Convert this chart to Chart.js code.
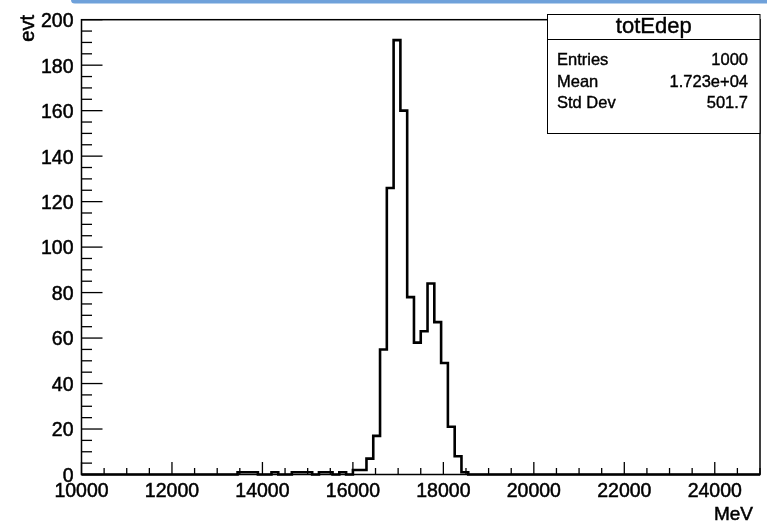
<!DOCTYPE html>
<html>
<head>
<meta charset="utf-8">
<script src="https://cdn.jsdelivr.net/npm/chart.js@4"></script>
<style>
  body { margin: 0; background: #fff; }
  canvas { display: block; }
</style>
</head>
<body>
<canvas id="histChart" width="767" height="525"></canvas>
<script>
// histogram: 100 bins from 10000 to 25000 MeV
const xMin = 10000;
const xMax = 25000;
const binWidth = 150;
const binCounts = [
    0, 0, 0, 0, 0, 0, 0, 0, 0, 0,
    0, 0, 0, 0, 0, 0, 0, 0, 0, 0,
    0, 0, 0, 1, 1, 1, 0, 0, 1, 0,
    0, 1, 1, 1, 0, 1, 1, 0, 1, 0,
    2, 2, 7, 17, 55, 126, 191, 160, 78, 58,
    63, 84, 67, 49, 21, 8, 1, 0, 0, 0,
    0, 0, 0, 0, 0, 0, 0, 0, 0, 0,
    0, 0, 0, 0, 0, 0, 0, 0, 0, 0,
    0, 0, 0, 0, 0, 0, 0, 0, 0, 0,
    0, 0, 0, 0, 0, 0, 0, 0, 0, 0,
];
const xTickLabels = [10000, 12000, 14000, 16000, 18000, 20000, 22000, 24000];
const yTickLabels = [0, 20, 40, 60, 80, 100, 120, 140, 160, 180, 200];
const xTitle = 'MeV';
const yTitle = 'evt';
const statsTitle = 'totEdep';
const statsNames = ['Entries', 'Mean', 'Std Dev'];
const statsValues = ['1000', '1.723e+04', '501.7'];

const FONT = "'Liberation Sans', Arial, Helvetica, sans-serif";

const points = binCounts.map((c, i) => ({ x: xMin + i * binWidth, y: c }));
points.push({ x: xMax, y: binCounts[binCounts.length - 1] });

const line = (ctx, x1, y1, x2, y2) => {
    ctx.beginPath();
    ctx.moveTo(x1, y1);
    ctx.lineTo(x2, y2);
    ctx.stroke();
};

// filled text with a thin outline, a bit heavier like the ROOT output
const heavyText = (ctx, text, x, y) => {
    ctx.fillText(text, x, y);
    ctx.strokeText(text, x, y);
};

const rootFrame = {
    id: 'rootFrame',
    beforeDraw(chart) {
        const ctx = chart.ctx;
        // blue strip along the top edge
        ctx.save();
        ctx.fillStyle = '#6fa1da';
        ctx.beginPath();
        ctx.roundRect(71, -4, 710, 7.5, 4);
        ctx.fill();
        ctx.restore();
    },
    afterDraw(chart) {
        const ctx = chart.ctx;
        const { left, right, top, bottom } = chart.chartArea;
        const xs = chart.scales.x;
        const ys = chart.scales.y;

        ctx.save();
        ctx.strokeStyle = '#000';
        ctx.lineWidth = 1.5;
        ctx.strokeRect(left, top, right - left, bottom - top);

        ctx.lineWidth = 1.3;
        for (let v = xMin; v <= xMax; v += 500) {
            const px = xs.getPixelForValue(v);
            const len = (v - xMin) % 2000 === 0 ? 12.5 : 6.5;
            line(ctx, px, bottom, px, bottom - len);
        }
        for (let v = 0; v <= 200; v += 5) {
            const py = ys.getPixelForValue(v);
            const len = v % 20 === 0 ? 21 : 10.5;
            line(ctx, left, py, left + len, py);
        }

        // axis titles
        ctx.fillStyle = '#000';
        ctx.lineWidth = 0.5;
        ctx.font = `19px ${FONT}`;
        ctx.textAlign = 'right';
        ctx.textBaseline = 'alphabetic';
        heavyText(ctx, xTitle, 753, 520);
        ctx.save();
        ctx.translate(34, 15);
        ctx.rotate(-Math.PI / 2);
        ctx.font = `20px ${FONT}`;
        ctx.textAlign = 'right';
        heavyText(ctx, yTitle, 0, 0);
        ctx.restore();

        // stats box
        const bx = 547.5, by = 14.5, bw = 212.5, bh = 119;
        ctx.fillStyle = '#fff';
        ctx.fillRect(bx, by, bw, bh);
        ctx.lineWidth = 1;
        ctx.strokeRect(bx, by, bw, bh);
        line(ctx, bx, 39.5, bx + bw, 39.5);
        ctx.fillStyle = '#000';
        ctx.lineWidth = 0.4;
        ctx.font = `22px ${FONT}`;
        ctx.textAlign = 'center';
        heavyText(ctx, statsTitle, bx + bw / 2, 33);
        ctx.font = `16.5px ${FONT}`;
        const rowBase = [65, 87, 108];
        statsNames.forEach((name, i) => {
            ctx.textAlign = 'left';
            heavyText(ctx, name, 557, rowBase[i]);
            ctx.textAlign = 'right';
            heavyText(ctx, statsValues[i], 748, rowBase[i]);
        });
        ctx.restore();
    },
};

const ctx = document.getElementById('histChart').getContext('2d');
new Chart(ctx, {
    type: 'line',
    data: {
        datasets: [{
            label: statsTitle,
            data: points,
            stepped: 'before',
            borderColor: '#000',
            borderWidth: 2.6,
            pointRadius: 0,
            fill: false,
            clip: 4,
        }],
    },
    options: {
        responsive: false,
        animation: false,
        devicePixelRatio: 1,
        layout: { padding: { top: 15.5, right: 7, left: 0, bottom: 0 } },
        plugins: {
            legend: { display: false },
            tooltip: { enabled: false },
        },
        scales: {
            x: {
                type: 'linear',
                min: xMin,
                max: xMax,
                grid: { display: false, drawTicks: false },
                border: { display: false },
                afterBuildTicks: (scale) => {
                    scale.ticks = xTickLabels.map(v => ({ value: v }));
                },
                afterFit: (scale) => { scale.height = 50.5; },
                ticks: {
                    autoSkip: false,
                    maxRotation: 0,
                    padding: 5,
                    color: '#000',
                    textStrokeColor: '#000',
                    textStrokeWidth: 0.5,
                    font: { family: FONT, size: 19.5 },
                    callback: (v) => String(v),
                },
            },
            y: {
                min: 0,
                max: 200,
                grid: { display: false, drawTicks: false },
                border: { display: false },
                afterBuildTicks: (scale) => {
                    scale.ticks = yTickLabels.map(v => ({ value: v }));
                },
                afterFit: (scale) => { scale.width = 81.5; },
                ticks: {
                    autoSkip: false,
                    padding: 8,
                    labelOffset: 2,
                    color: '#000',
                    textStrokeColor: '#000',
                    textStrokeWidth: 0.5,
                    font: { family: FONT, size: 19.5 },
                },
            },
        },
    },
    plugins: [rootFrame],
});
</script>
</body>
</html>
